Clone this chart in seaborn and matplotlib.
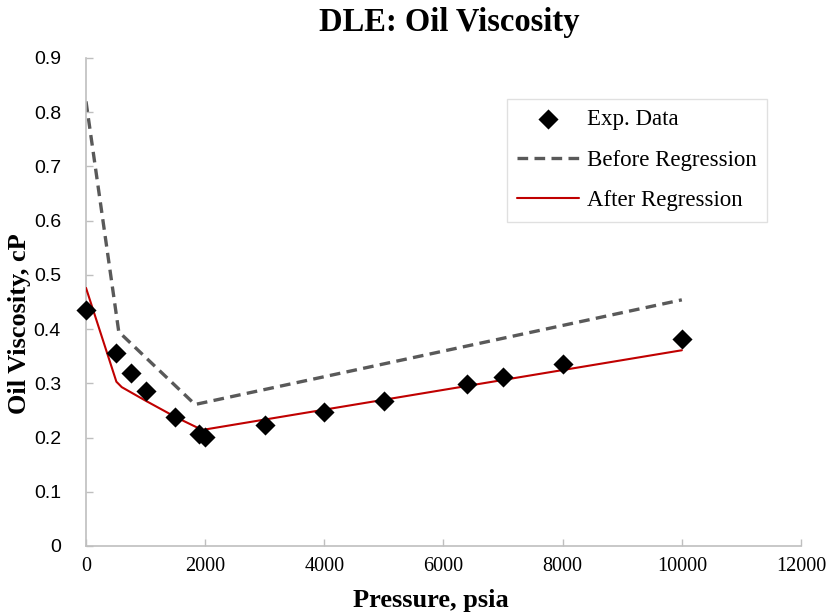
import matplotlib
matplotlib.use("Agg")
import matplotlib.pyplot as plt
import seaborn as sns
import pandas as pd

# Experimental data
exp_pressure = [0, 500, 750, 1000, 1500, 1900, 2000, 3000, 4000, 5000, 6400, 7000, 8000, 10000]
exp_visc = [0.435, 0.356, 0.319, 0.286, 0.238, 0.207, 0.201, 0.223, 0.247, 0.267, 0.299, 0.312, 0.336, 0.381]

# Before regression
before_pressure = [0, 550, 1830, 10000]
before_visc = [0.820, 0.395, 0.261, 0.454]

# After regression
after_pressure = [0, 510, 600, 1000, 1500, 1950, 10000]
after_visc = [0.476, 0.303, 0.293, 0.268, 0.238, 0.214, 0.361]

x_ticks = [0, 2000, 4000, 6000, 8000, 10000, 12000]
y_ticks = [0, 0.1, 0.2, 0.3, 0.4, 0.5, 0.6, 0.7, 0.8, 0.9]

sns.set_theme(style="white")
plt.rcParams['font.family'] = ['Liberation Serif', 'DejaVu Serif']
plt.rcParams['text.color'] = 'black'
plt.rcParams['axes.labelcolor'] = 'black'
plt.rcParams['xtick.labelcolor'] = 'black'
plt.rcParams['ytick.labelcolor'] = 'black'

fig = plt.figure(figsize=(8.28, 6.13), dpi=100)
L, R, T, B = 86, 801, 58, 546
ax = fig.add_axes([L/828, 1 - B/613, (R-L)/828, (B-T)/613])

df_exp = pd.DataFrame({"p": exp_pressure, "v": exp_visc})
df_before = pd.DataFrame({"p": before_pressure, "v": before_visc})
df_after = pd.DataFrame({"p": after_pressure, "v": after_visc})

sns.lineplot(data=df_before, x="p", y="v", ax=ax, color="#595959", linewidth=2.4,
             linestyle=(0, (3.2, 1.9)), label="Before Regression", sort=False, zorder=2)
sns.lineplot(data=df_after, x="p", y="v", ax=ax, color="#C00000", linewidth=1.5,
             label="After Regression", sort=False, zorder=3)
sns.scatterplot(data=df_exp, x="p", y="v", ax=ax, marker="D", s=105, color="black",
                edgecolor="black", linewidth=0, label="Exp. Data", zorder=4, clip_on=False)

ax.set_xlim(0, 12000)
ax.set_ylim(0, 0.9)
ax.set_xticks(x_ticks)
ax.set_yticks(y_ticks)
ax.set_xticklabels([str(t) for t in x_ticks], fontsize=14.5, family=['Liberation Serif'])
ax.set_yticklabels(["0" if t == 0 else f"{t:.1f}" for t in y_ticks], fontsize=14,
                   family=['Liberation Sans'])
ax.tick_params(axis='both', direction='in', length=5, width=1, color="#BFBFBF",
               bottom=True, left=True, labelcolor="black")
ax.tick_params(axis='y', pad=18)
ax.tick_params(axis='x', pad=8)

for s in ["top", "right"]:
    ax.spines[s].set_visible(False)
for s in ["left", "bottom"]:
    ax.spines[s].set_color("#BFBFBF")
    ax.spines[s].set_linewidth(1.2)

ax.set_xlabel("Pressure, psia", fontsize=19, fontweight="bold", color="black")
ax.xaxis.label.set_va("center")
ax.xaxis.set_label_coords((431 - L)/(R - L), (B - 600)/(B - T))
ax.set_ylabel("Oil Viscosity, cP", fontsize=19, fontweight="bold", color="black")
ax.yaxis.label.set_va("center")
ax.yaxis.set_label_coords((20 - L)/(R - L), (B - 324)/(B - T))

fig.text(449.5/828, 1 - 22/613, "DLE: Oil Viscosity", fontsize=23.5, fontweight="bold",
         ha="center", va="center", color="black")

handles, labels = ax.get_legend_handles_labels()
order = [labels.index("Exp. Data"), labels.index("Before Regression"), labels.index("After Regression")]
leg = ax.legend([handles[i] for i in order], [labels[i] for i in order],
                loc="upper left", bbox_to_anchor=((507-L)/(R-L), (B-99)/(B-T)),
                borderaxespad=0, fontsize=16.5, frameon=True, fancybox=False,
                edgecolor="#D9D9D9", handlelength=2.7, labelspacing=0.85,
                borderpad=0.45, handletextpad=0.35)
leg.get_frame().set_linewidth(1.0)
for t in leg.get_texts():
    t.set_color("black")

fig.savefig("out.png", dpi=100)
